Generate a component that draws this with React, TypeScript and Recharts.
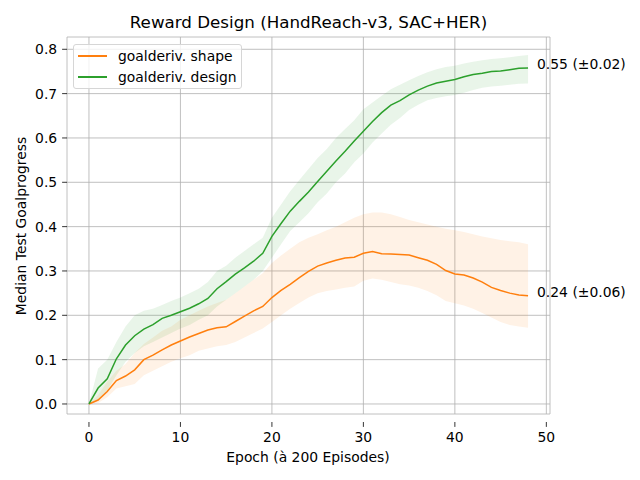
import {
    ComposedChart,
    Area,
    Line,
    XAxis,
    YAxis,
    CartesianGrid,
    ReferenceDot,
    Label,
} from "recharts";

const epochs = [
    0, 1, 2, 3, 4, 5, 6, 7, 8, 9, 10, 11, 12, 13, 14, 15, 16, 17, 18, 19, 20, 21, 22, 23, 24,
    25, 26, 27, 28, 29, 30, 31, 32, 33, 34, 35, 36, 37, 38, 39, 40, 41, 42, 43, 44, 45, 46, 47, 48,
];

const shapeMedian = [
    0, 0.009, 0.028, 0.053, 0.063, 0.077, 0.1, 0.11, 0.122, 0.133, 0.142, 0.151, 0.159, 0.167,
    0.172, 0.174, 0.186, 0.198, 0.21, 0.22, 0.24, 0.256, 0.27, 0.285, 0.299, 0.311, 0.318, 0.324,
    0.329, 0.331, 0.34, 0.344, 0.339, 0.338, 0.337, 0.336, 0.33, 0.324, 0.315, 0.301, 0.293,
    0.291, 0.284, 0.275, 0.263, 0.256, 0.25, 0.246, 0.244,
];
const shapeHigh = [
    0, 0.02, 0.05, 0.075, 0.09, 0.115, 0.135, 0.15, 0.165, 0.175, 0.19, 0.2, 0.21, 0.22, 0.228,
    0.235, 0.25, 0.265, 0.28, 0.295, 0.318, 0.335, 0.35, 0.365, 0.375, 0.383, 0.392, 0.4, 0.41,
    0.42, 0.428, 0.432, 0.432, 0.428, 0.422, 0.415, 0.41, 0.405, 0.4, 0.395, 0.392, 0.388, 0.383,
    0.378, 0.374, 0.37, 0.367, 0.365, 0.36,
];
const shapeLow = [
    0, 0.002, 0.015, 0.035, 0.04, 0.045, 0.065, 0.075, 0.085, 0.095, 0.103, 0.11, 0.12, 0.125,
    0.13, 0.133, 0.14, 0.15, 0.16, 0.17, 0.185, 0.2, 0.215, 0.228, 0.24, 0.25, 0.255, 0.258,
    0.262, 0.265, 0.278, 0.283, 0.28, 0.275, 0.27, 0.267, 0.262, 0.255, 0.245, 0.232, 0.227,
    0.222, 0.215, 0.205, 0.195, 0.185, 0.178, 0.175, 0.172,
];

const designMedian = [
    0, 0.036, 0.057, 0.102, 0.133, 0.154, 0.169, 0.179, 0.193, 0.2, 0.208, 0.216, 0.226, 0.238,
    0.26, 0.276, 0.293, 0.307, 0.322, 0.34, 0.378, 0.407, 0.435, 0.457, 0.478, 0.502, 0.525,
    0.548, 0.57, 0.593, 0.615, 0.637, 0.657, 0.674, 0.684, 0.697, 0.708, 0.717, 0.724, 0.728,
    0.732, 0.738, 0.743, 0.746, 0.75, 0.751, 0.754, 0.757, 0.758,
];
const designHigh = [
    0, 0.08, 0.1, 0.14, 0.175, 0.2, 0.21, 0.215, 0.223, 0.232, 0.24, 0.25, 0.26, 0.275, 0.3,
    0.312, 0.33, 0.345, 0.36, 0.375, 0.42, 0.45, 0.48, 0.505, 0.53, 0.555, 0.575, 0.6, 0.62, 0.64,
    0.665, 0.68, 0.695, 0.71, 0.72, 0.73, 0.74, 0.748, 0.755, 0.76, 0.763, 0.768, 0.772, 0.775,
    0.778, 0.78, 0.782, 0.785, 0.787,
];
const designLow = [
    0, 0.01, 0.03, 0.065, 0.095, 0.115, 0.13, 0.14, 0.15, 0.16, 0.17, 0.178, 0.19, 0.2, 0.22,
    0.235, 0.25, 0.265, 0.28, 0.3, 0.33, 0.36, 0.39, 0.41, 0.43, 0.455, 0.475, 0.5, 0.52, 0.545,
    0.565, 0.59, 0.61, 0.63, 0.645, 0.663, 0.675, 0.685, 0.69, 0.694, 0.697, 0.702, 0.708, 0.713,
    0.716, 0.718, 0.72, 0.722, 0.723,
];

const seriesNames = ["goalderiv. shape", "goalderiv. design"];
const seriesColors = ["#ff7f0e", "#2ca02c"];
const finalNotes = ["0.24 (\u00b10.06)", "0.55 (\u00b10.02)"];
const xTicks = [0, 10, 20, 30, 40, 50];
const yTicks = [0, 0.1, 0.2, 0.3, 0.4, 0.5, 0.6, 0.7, 0.8];

const data = epochs.map((epoch, i) => ({
    epoch,
    shape: shapeMedian[i],
    shapeBand: [shapeLow[i], shapeHigh[i]],
    design: designMedian[i],
    designBand: [designLow[i], designHigh[i]],
}));

const FONT = "DejaVu Sans, sans-serif";
const last = epochs.length - 1;

const XTick = ({ x, y, payload }: any) => (
    <g>
        <line x1={x} x2={x} y1={y + 8} y2={y + 12.9} stroke="#000" strokeWidth={0.8} />
        <text x={x} y={y + 28} textAnchor="middle" fontSize={13.9} fontFamily={FONT} fill="#000">
            {payload.value}
        </text>
    </g>
);

const YTick = ({ x, y, payload }: any) => (
    <g>
        <line x1={x - 4.9} x2={x} y1={y} y2={y} stroke="#000" strokeWidth={0.8} />
        <text x={x - 9.8} y={y + 5} textAnchor="end" fontSize={13.9} fontFamily={FONT} fill="#000">
            {Number(payload.value).toFixed(1)}
        </text>
    </g>
);

const note = (text: string) => (props: any) => {
    const vb = props.viewBox;
    return (
        <text x={vb.x + 9} y={vb.y + 1} fontSize={13.9} fontFamily={FONT} fill="#000">
            {text}
        </text>
    );
};

export default function App() {
    return (
        <div style={{ position: "absolute", left: 0, top: 0, width: 640, height: 480, background: "#fff" }}>
            <div
                style={{
                    position: "absolute",
                    left: 0,
                    width: 617,
                    top: 11,
                    textAlign: "center",
                    fontFamily: FONT,
                    fontSize: 16.7,
                    lineHeight: "22px",
                    color: "#000",
                }}
            >
                Reward Design (HandReach-v3, SAC+HER)
            </div>
            <ComposedChart
                width={640}
                height={480}
                data={data}
                margin={{ top: 37, right: 90, bottom: 0, left: 0 }}
            >
                <CartesianGrid stroke="#b0b0b0" strokeWidth={0.8} verticalPoints={undefined} />
                <XAxis
                    dataKey="epoch"
                    type="number"
                    domain={[-2.4, 50.4]}
                    ticks={xTicks}
                    height={66}
                    axisLine={false}
                    tickLine={false}
                    tickSize={0}
                    tickMargin={0}
                    tick={<XTick />}
                    interval={0}
                >
                    <Label
                        content={() => (
                            <text x={308} y={462} textAnchor="middle" fontSize={13.9} fontFamily={FONT} fill="#000">
                                Epoch (à 200 Episodes)
                            </text>
                        )}
                    />
                </XAxis>
                <YAxis
                    type="number"
                    domain={[-0.0226, 0.8277]}
                    ticks={yTicks}
                    width={67}
                    axisLine={false}
                    tickLine={false}
                    tickSize={0}
                    tickMargin={0}
                    tick={<YTick />}
                    interval={0}
                    allowDataOverflow
                >
                    <Label
                        content={() => (
                            <text
                                x={21}
                                y={226}
                                transform="rotate(-90 21 226)"
                                textAnchor="middle"
                                dominantBaseline="central"
                                fontSize={13.9}
                                fontFamily={FONT}
                                fill="#000"
                            >
                                Median Test Goalprogress
                            </text>
                        )}
                    />
                </YAxis>
                <Area
                    dataKey="shapeBand"
                    type="linear"
                    stroke="none"
                    fill={seriesColors[0]}
                    fillOpacity={0.1}
                    isAnimationActive={false}
                    activeDot={false}
                />
                <Area
                    dataKey="designBand"
                    type="linear"
                    stroke="none"
                    fill={seriesColors[1]}
                    fillOpacity={0.1}
                    isAnimationActive={false}
                    activeDot={false}
                />
                <Line
                    dataKey="shape"
                    type="linear"
                    stroke={seriesColors[0]}
                    strokeWidth={1.5}
                    dot={false}
                    isAnimationActive={false}
                />
                <Line
                    dataKey="design"
                    type="linear"
                    stroke={seriesColors[1]}
                    strokeWidth={1.5}
                    dot={false}
                    isAnimationActive={false}
                />
                <ReferenceDot
                    x={epochs[last]}
                    y={shapeMedian[last]}
                    r={0}
                    fill="none"
                    stroke="none"
                    label={{ content: note(finalNotes[0]) }}
                />
                <ReferenceDot
                    x={epochs[last]}
                    y={designMedian[last]}
                    r={0}
                    fill="none"
                    stroke="none"
                    label={{ content: note(finalNotes[1]) }}
                />
            </ComposedChart>
            <div
                style={{
                    position: "absolute",
                    left: 73,
                    top: 44,
                    width: 167,
                    height: 43,
                    border: "1px solid #d6d6d6",
                    borderRadius: 3,
                    background: "rgba(255,255,255,0.8)",
                    fontFamily: FONT,
                    fontSize: 13.9,
                    color: "#000",
                }}
            >
                {seriesNames.map((name, i) => (
                    <div key={name} style={{ position: "absolute", left: 0, top: 1 + i * 21, height: 20, display: "flex", alignItems: "center" }}>
                        <span style={{ display: "inline-block", marginLeft: 4, width: 29, height: 2, background: seriesColors[i] }} />
                        <span style={{ marginLeft: 11, whiteSpace: "nowrap" }}>{name}</span>
                    </div>
                ))}
            </div>
        </div>
    );
}
